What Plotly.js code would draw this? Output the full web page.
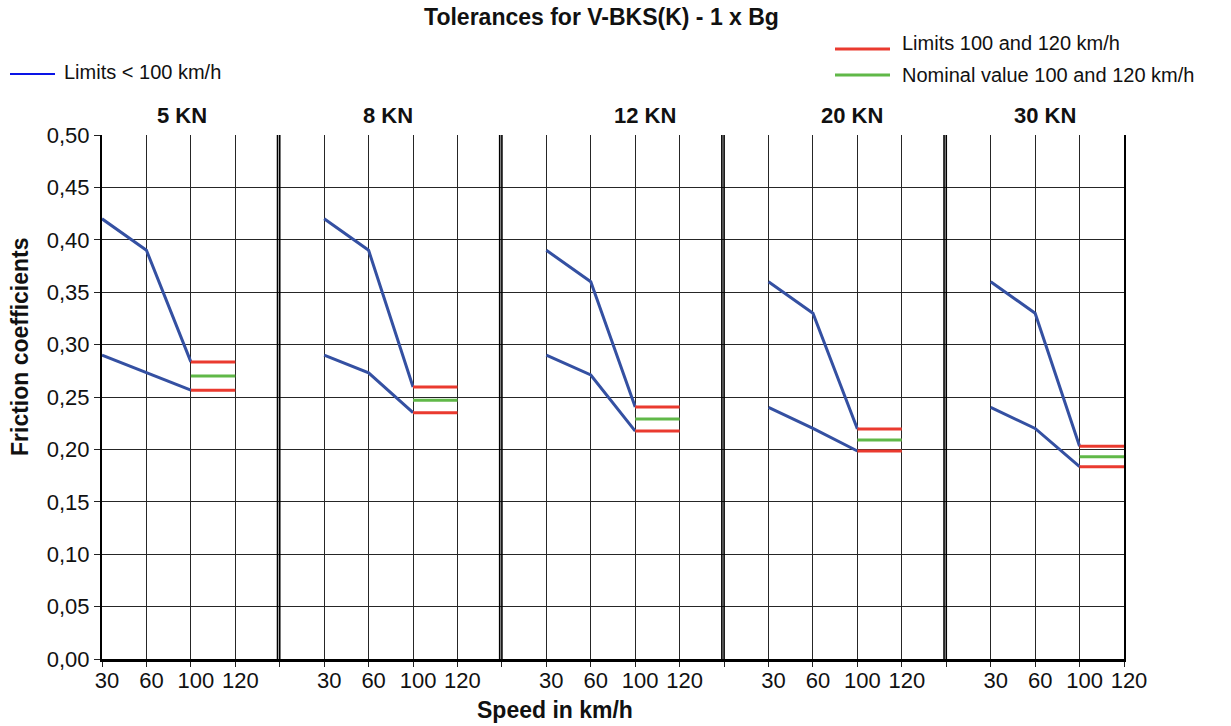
<!DOCTYPE html>
<html>
<head>
<meta charset="utf-8">
<script src="https://cdn.plot.ly/plotly-3.0.1.min.js"></script>
<style>html,body{margin:0;padding:0;background:#fff;}#chart{width:1231px;height:726px;}</style>
</head>
<body>
<div id="chart"></div>
<script>
// ---------- data ----------
const speedLabels = ['30', '60', '100', '120'];
const panelLabels = ['5 KN', '8 KN', '12 KN', '20 KN', '30 KN'];
// blue limit lines (< 100 km/h), values at 30, 60, 100 km/h
const upperBelow100 = [[0.42, 0.39, 0.2835], [0.42, 0.39, 0.2595], [0.39, 0.36, 0.2405], [0.36, 0.33, 0.2195], [0.36, 0.33, 0.203]];
const lowerBelow100 = [[0.29, 0.273, 0.2565], [0.29, 0.273, 0.235], [0.29, 0.271, 0.2175], [0.24, 0.22, 0.1985], [0.24, 0.22, 0.1835]];
// red limits and green nominal value at 100 and 120 km/h
const upperLimit100to120 = [0.2835, 0.2595, 0.2405, 0.2195, 0.203];
const lowerLimit100to120 = [0.2565, 0.235, 0.2175, 0.1985, 0.1835];
const nominal100to120 = [0.27, 0.247, 0.229, 0.209, 0.193];

// ---------- layout constants ----------
const W = 1231, H = 726;
const M = {l: 102, r: 107, t: 135, b: 67};
const PW = W - M.l - M.r, PH = H - M.t - M.b;
const SLOTS = 5;                 // slots per panel on the shared x axis
const FONT = 'Liberation Sans, Arial, Helvetica, sans-serif';
const BLUE = '#3450a2', RED = '#ea3a2f', GREEN = '#60b848', GRID = '#262626';
const px = x => (x - M.l) / PW;
const py = y => (H - M.b - y) / PH;
const slot = (p, c) => p * SLOTS + c;

const traces = [];
panelLabels.forEach((name, p) => {
  const xs = [0, 1, 2].map(c => slot(p, c));
  const xh = [2, 3].map(c => slot(p, c));
  const ln = (color) => ({color: color, width: 3});
  traces.push({x: xs, y: upperBelow100[p], mode: 'lines', line: ln(BLUE), name: name + ' upper limit < 100 km/h', showlegend: false, hoverinfo: 'skip'});
  traces.push({x: xs, y: lowerBelow100[p], mode: 'lines', line: ln(BLUE), name: name + ' lower limit < 100 km/h', showlegend: false, hoverinfo: 'skip'});
  traces.push({x: xh, y: [upperLimit100to120[p], upperLimit100to120[p]], mode: 'lines', line: ln(RED), name: name + ' upper limit 100/120', showlegend: false, hoverinfo: 'skip'});
  traces.push({x: xh, y: [nominal100to120[p], nominal100to120[p]], mode: 'lines', line: ln(GREEN), name: name + ' nominal 100/120', showlegend: false, hoverinfo: 'skip'});
  traces.push({x: xh, y: [lowerLimit100to120[p], lowerLimit100to120[p]], mode: 'lines', line: ln(RED), name: name + ' lower limit 100/120', showlegend: false, hoverinfo: 'skip'});
});

const gridVals = [], labelText = [];
panelLabels.forEach((n, p) => {
  speedLabels.forEach((s, c) => {
    gridVals.push(slot(p, c));
    labelText.push(s);
  });
});
const dividers = panelLabels.slice(1).map((n, i) => slot(i + 1, 0) - 1);

const shapes = [];
dividers.forEach(d => {
  [d, d - 0.05].forEach(x => shapes.push({type: 'line', xref: 'x', yref: 'paper', x0: x, x1: x, y0: 0, y1: 1, line: {color: '#000', width: 1.6}}));
});
// legend samples
shapes.push({type: 'line', xref: 'paper', yref: 'paper', x0: px(10), x1: px(55), y0: py(74), y1: py(74), line: {color: '#0a14e6', width: 1.8}});
shapes.push({type: 'line', xref: 'paper', yref: 'paper', x0: px(835), x1: px(890), y0: py(49), y1: py(49), line: {color: RED, width: 3}});
shapes.push({type: 'line', xref: 'paper', yref: 'paper', x0: px(835), x1: px(890), y0: py(75), y1: py(75), line: {color: GREEN, width: 3}});

const panelLabelX = [1.79, 6.44, 12.21, 16.88, 21.23];
const annotations = panelLabels.map((n, p) => ({
  text: '<b>' + n + '</b>', xref: 'x', yref: 'paper', x: panelLabelX[p], y: py(116),
  xanchor: 'center', yanchor: 'middle', showarrow: false, font: {family: FONT, size: 22, color: '#111'}
}));
annotations.push({text: '<b>Speed in km/h</b>', xref: 'paper', yref: 'paper', x: px(555), y: py(710), xanchor: 'center', yanchor: 'middle', showarrow: false, font: {family: FONT, size: 23, color: '#111'}});
annotations.push({text: '<b>Friction coefficients</b>', xref: 'paper', yref: 'paper', x: px(20), y: py(347), xanchor: 'center', yanchor: 'middle', textangle: -90, showarrow: false, font: {family: FONT, size: 23, color: '#111'}});
annotations.push({text: 'Limits < 100 km/h', xref: 'paper', yref: 'paper', x: px(62), y: py(72), xanchor: 'left', yanchor: 'middle', showarrow: false, font: {family: FONT, size: 20, color: '#111'}});
annotations.push({text: 'Limits 100 and 120 km/h', xref: 'paper', yref: 'paper', x: px(900), y: py(43), xanchor: 'left', yanchor: 'middle', showarrow: false, font: {family: FONT, size: 20, color: '#111'}});
annotations.push({text: 'Nominal value 100 and 120 km/h', xref: 'paper', yref: 'paper', x: px(900), y: py(75), xanchor: 'left', yanchor: 'middle', showarrow: false, font: {family: FONT, size: 20, color: '#111'}});

const layout = {
  width: W, height: H,
  margin: M,
  paper_bgcolor: '#fff', plot_bgcolor: '#fff',
  separators: ', ',
  showlegend: false,
  font: {family: FONT, color: '#111'},
  title: {text: '<b>Tolerances for V-BKS(K) - 1 x Bg</b>', x: 601.5 / W, xanchor: 'center', xref: 'container', y: 1 - 17 / H, yanchor: 'middle', yref: 'container', font: {family: FONT, size: 23, color: '#111'}},
  xaxis: {
    range: [0, slot(panelLabels.length - 1, speedLabels.length - 1)],
    tickmode: 'array', tickvals: gridVals, ticktext: labelText,
    ticks: 'outside', ticklen: 5, tickcolor: '#222', tickwidth: 1, ticklabelshift: 5, ticklabelstandoff: -5,
    showgrid: true, gridcolor: GRID, gridwidth: 1,
    tickfont: {family: FONT, size: 22, color: '#111'},
    minor: {tickmode: 'array', tickvals: dividers, ticks: 'outside', ticklen: 5, tickcolor: '#222', tickwidth: 1, showgrid: false},
    showline: true, linecolor: '#000', linewidth: 2.5, zeroline: false, fixedrange: true
  },
  yaxis: {
    range: [0, 0.5], tick0: 0, dtick: 0.05, tickformat: '.2f',
    ticks: 'outside', ticklen: 6, tickcolor: '#222', tickwidth: 1,
    tickfont: {family: FONT, size: 22, color: '#111'},
    showgrid: true, gridcolor: GRID, gridwidth: 1,
    showline: true, linecolor: '#000', linewidth: 2, mirror: true, zeroline: false, fixedrange: true
  },
  shapes: shapes,
  annotations: annotations
};

Plotly.newPlot('chart', traces, layout, {displayModeBar: false, staticPlot: true});
</script>
</body>
</html>
